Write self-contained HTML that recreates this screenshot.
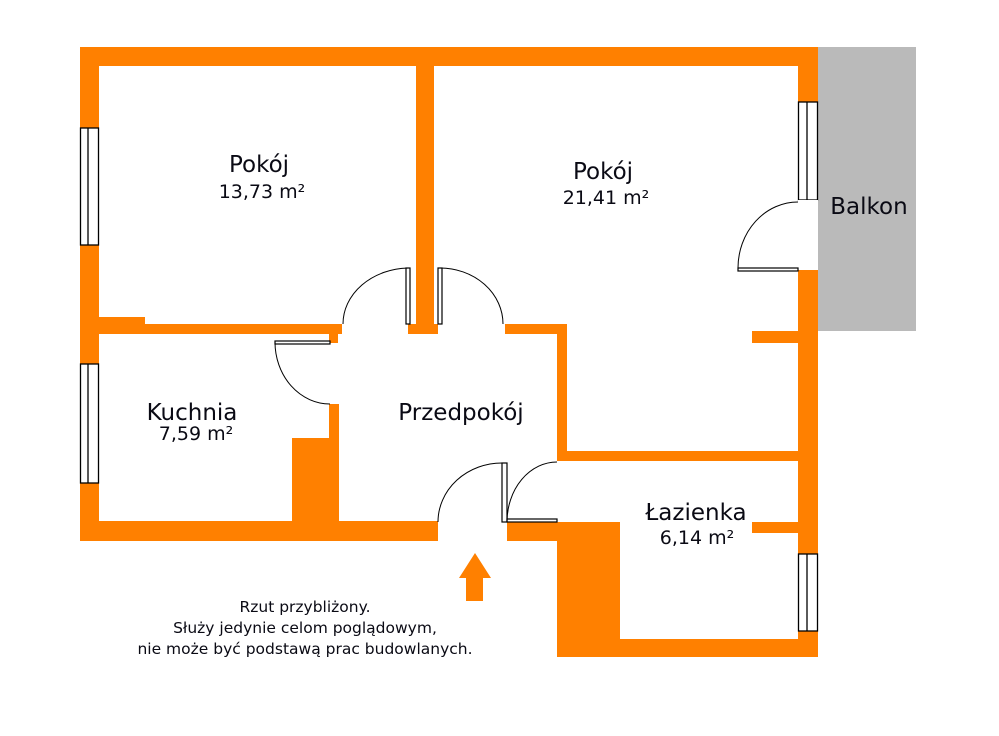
<!DOCTYPE html>
<html><head><meta charset="utf-8"><style>
html,body{margin:0;padding:0;background:#fff;}
svg{display:block;}
text{font-family:"DejaVu Sans","Liberation Sans",sans-serif;fill:#0a0a14;}
</style></head><body>
<svg width="999" height="736" viewBox="0 0 999 736" xmlns="http://www.w3.org/2000/svg">
<rect width="999" height="736" fill="#fff"/>
<rect x="818" y="47" width="98" height="284" fill="#bababa"/>
<g fill="#ff8000">
<rect x="80" y="47" width="738" height="19"/>
<rect x="80" y="47" width="19" height="494"/>
<rect x="99" y="317" width="46" height="8"/>
<rect x="99" y="324" width="243" height="10"/>
<rect x="329" y="333" width="9" height="10"/>
<rect x="329" y="404" width="10" height="120"/>
<rect x="292" y="438" width="47" height="86"/>
<rect x="80" y="521" width="358" height="20"/>
<rect x="416" y="47" width="18" height="287"/>
<rect x="408" y="324" width="30" height="10"/>
<rect x="505" y="324" width="62" height="10"/>
<rect x="557" y="324" width="10" height="137"/>
<rect x="557" y="451" width="241" height="10"/>
<rect x="507" y="522" width="113" height="19"/>
<rect x="557" y="522" width="63" height="135"/>
<rect x="557" y="639" width="261" height="18"/>
<rect x="798" y="47" width="20" height="610"/>
<rect x="752" y="331" width="66" height="12"/>
<rect x="752" y="522" width="46" height="11"/>
<polygon points="475,553 491,578 483,578 483,601 466,601 466,578 459,578"/>
</g>
<g fill="#fff" stroke="#000" stroke-width="1.3">
<rect x="80.5" y="128" width="18" height="117"/>
<line x1="88" y1="128" x2="88" y2="245"/>
<rect x="80.5" y="364" width="18" height="119"/>
<line x1="88" y1="364" x2="88" y2="483"/>
<rect x="798.5" y="102" width="19" height="98"/>
<line x1="807" y1="102" x2="807" y2="200"/>
<rect x="798.5" y="554" width="19" height="77"/>
<line x1="807" y1="554" x2="807" y2="631"/>
</g>
<rect x="798" y="200" width="20" height="70" fill="#fff"/>
<g fill="#fff" stroke="#000" stroke-width="1.2">
<rect x="406" y="268" width="4" height="56"/>
<rect x="438" y="268" width="4" height="56"/>
<rect x="275" y="341" width="55" height="3"/>
<rect x="738" y="268" width="60" height="3"/>
<rect x="502" y="463" width="5" height="59"/>
<rect x="507" y="519" width="50" height="3"/>
</g>
<g fill="none" stroke="#000" stroke-width="1">
<path d="M408,268 A67,56 0 0 0 343,324"/>
<path d="M440,268 A63,56 0 0 1 503,324"/>
<path d="M275,342 A55,62 0 0 0 330,404"/>
<path d="M798,202 A60,66 0 0 0 738,268"/>
<path d="M502,463 A64,59 0 0 0 438,522"/>
<path d="M557,462 A50,60 0 0 0 507,522"/>
</g>
<g text-anchor="middle">
<text x="259" y="172" font-size="23">Pokój</text>
<text x="262" y="198" font-size="19">13,73 m²</text>
<text x="603" y="179" font-size="23">Pokój</text>
<text x="606" y="204" font-size="19">21,41 m²</text>
<text x="869" y="214" font-size="23">Balkon</text>
<text x="192" y="420" font-size="23">Kuchnia</text>
<text x="196" y="440" font-size="19">7,59 m²</text>
<text x="461" y="420" font-size="23">Przedpokój</text>
<text x="696" y="520" font-size="23">Łazienka</text>
<text x="697" y="544" font-size="19">6,14 m²</text>
<text x="305" y="612" font-size="15.5">Rzut przybliżony.</text>
<text x="305" y="633" font-size="15.5">Służy jedynie celom poglądowym,</text>
<text x="305" y="654" font-size="15.5">nie może być podstawą prac budowlanych.</text>
</g>
</svg>
</body></html>
